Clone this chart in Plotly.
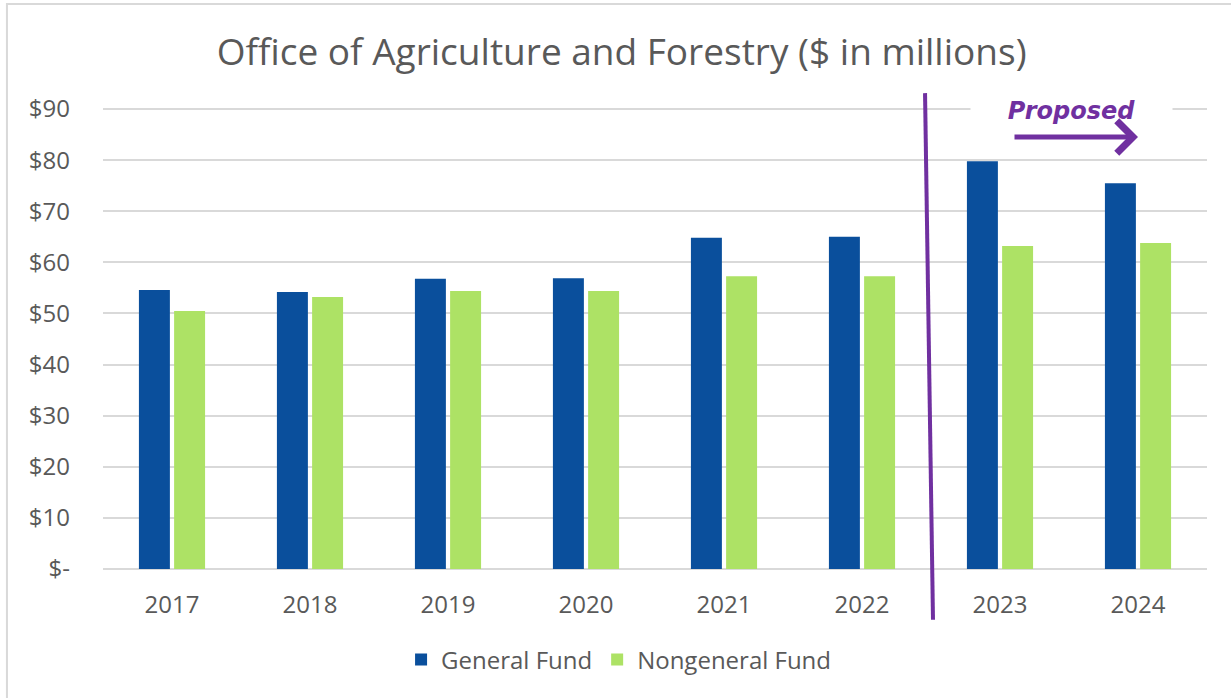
import plotly.graph_objects as go

# fiscal years and funding ($ in millions)
years = ["2017", "2018", "2019", "2020", "2021", "2022", "2023", "2024"]
general_fund = [54.6, 54.2, 56.8, 56.9, 64.8, 65.0, 79.8, 75.5]
nongeneral_fund = [50.5, 53.2, 54.4, 54.4, 57.3, 57.3, 63.2, 63.8]
y_ticks = [0, 10, 20, 30, 40, 50, 60, 70, 80, 90]
y_labels = ["$-", "$10", "$20", "$30", "$40", "$50", "$60", "$70", "$80", "$90"]

grey = "#595959"
purple = "#7030A0"

fig = go.Figure()
fig.add_trace(go.Bar(x=years, y=general_fund, name="General Fund",
                     marker=dict(color="#0A4F9C", line=dict(width=0))))
fig.add_trace(go.Bar(x=years, y=nongeneral_fund, name="Nongeneral Fund",
                     marker=dict(color="#ADE265", line=dict(width=0))))

# divider between actual and proposed years
fig.add_shape(type="line", xref="paper", yref="paper",
              x0=0.7446, y0=1.030, x1=0.7518, y1=-0.110,
              line=dict(color=purple, width=4))
# figure border (only left/top edges are inside the picture)
fig.add_shape(type="rect", xref="paper", yref="paper",
              x0=-0.087, y0=1.223, x1=1.05, y1=-0.35,
              line=dict(color="#d9d9d9", width=2), layer="below")

# "Proposed" label sits in a white box that hides the top gridline
fig.add_annotation(x=0.8775, y=0.991, xref="paper", yref="paper",
                   xanchor="center", yanchor="middle",
                   width=199, height=30, bgcolor="white",
                   text="<b><i>Proposed</i></b>", showarrow=False,
                   font=dict(family="DejaVu Sans", size=24, color=purple))
fig.add_annotation(x=0.9375, y=0.935, ax=-125, ay=0,
                   xref="paper", yref="paper", axref="pixel", ayref="pixel",
                   text="", showarrow=True, arrowhead=4, arrowsize=1.25,
                   arrowwidth=5, arrowcolor=purple)

fig.update_layout(
    width=1231, height=698,
    margin=dict(l=103, r=24, t=107, b=129),
    paper_bgcolor="white", plot_bgcolor="white",
    font=dict(family="Open Sans", size=24, color=grey),
    title=dict(text="Office of Agriculture and Forestry ($ in millions)",
               x=0.505, xanchor="center", y=0.9255, yanchor="middle",
               font=dict(size=37, color=grey)),
    barmode="group", bargap=0.49, bargroupgap=0.12,
    legend=dict(orientation="h", x=0.467, xanchor="center", y=-0.197,
                yanchor="middle", font=dict(size=24, color=grey),
                itemwidth=30, traceorder="normal"),
    showlegend=True,
)
fig.update_xaxes(showgrid=False, showline=False, ticks="", automargin=False,
                 ticklabelstandoff=19, tickfont=dict(size=24, color=grey))
fig.update_yaxes(range=[0, 90.4], tickvals=y_ticks, ticktext=y_labels,
                 gridcolor="#d9d9d9", gridwidth=2, zeroline=True,
                 zerolinecolor="#d9d9d9", zerolinewidth=2, automargin=False,
                 ticks="", ticklabelstandoff=32, tickfont=dict(size=24, color=grey))

fig.write_html("out.html", config={"displayModeBar": False},
               post_script="document.body.style.margin='0';")
